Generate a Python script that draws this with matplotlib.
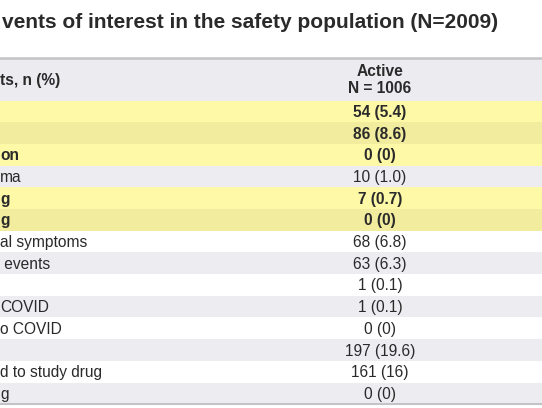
import matplotlib.pyplot as plt
from matplotlib.patches import Rectangle

plt.rcParams['font.family'] = ['Liberation Sans', 'DejaVu Sans']

# table content (left side of the slide is cut off)
title = "vents of interest in the safety population (N=2009)"
row_label_head = "ts, n (%)"
col_head = ["Active", "N = 1006"]
labels = ["", "", "on", "ma", "g", "g", "al symptoms", " events",
          "", "COVID", "o COVID", "", "d to study drug", "g"]
values = ["54 (5.4)", "86 (8.6)", "0 (0)", "10 (1.0)", "7 (0.7)", "0 (0)",
          "68 (6.8)", "63 (6.3)", "1 (0.1)", "1 (0.1)", "0 (0)",
          "197 (19.6)", "161 (16)", "0 (0)"]
highlight = [1, 1, 1, 0, 1, 1, 0, 0, 0, 0, 0, 0, 0, 0]

W, H = 542, 408
fig = plt.figure(figsize=(W / 100, H / 100), dpi=100)
ax = fig.add_axes([0, 0, 1, 1])
ax.set_xlim(0, W)
ax.set_ylim(H, 0)
ax.axis('off')

txt = '#2a2a2a'
fs = 11.2

# title
ax.text(2, 22, title, fontsize=15, fontweight='bold', color=txt,
        va='center', ha='left')

# header
top, head_h, row_h = 57.5, 43, 21.7
ax.add_patch(Rectangle((0, top), W, head_h, color='#ebebf0', lw=0))
ax.plot([0, W], [top, top], color='#c4c4c8', lw=1.8)
ax.text(0, top + 23, row_label_head, fontsize=fs, fontweight='bold',
        color=txt, va='center')
ax.text(380, top + 14, col_head[0], fontsize=fs, fontweight='bold',
        color=txt, va='center', ha='center')
ax.text(380, top + 31, col_head[1], fontsize=fs, fontweight='bold',
        color=txt, va='center', ha='center')

y0 = top + head_h
for i, (lab, val, hl) in enumerate(zip(labels, values, highlight)):
    y = y0 + i * row_h
    if hl:
        c = '#fdf9a6' if i % 2 == 0 else '#f1ec9e'
    else:
        c = '#ffffff' if i % 2 == 0 else '#ececf1'
    ax.add_patch(Rectangle((0, y), W, row_h, color=c, lw=0))
    fw = 'bold' if hl else 'normal'
    ax.text(0, y + row_h / 2 + 1, lab, fontsize=fs, fontweight=fw,
            color=txt, va='center')
    ax.text(380, y + row_h / 2 + 1, val, fontsize=fs, fontweight=fw,
            color=txt, va='center', ha='center')

yb = y0 + len(labels) * row_h
ax.plot([0, W], [yb, yb], color='#c4c4c8', lw=1.5)

fig.savefig('out.png', dpi=100)
